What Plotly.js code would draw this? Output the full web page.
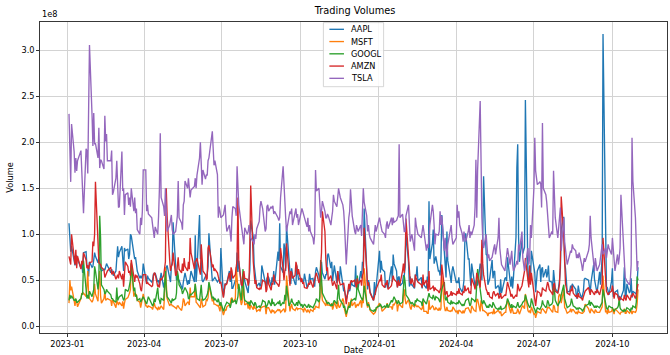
<!DOCTYPE html>
<html><head><meta charset="utf-8">
<script src="https://cdn.plot.ly/plotly-3.0.1.min.js"></script>
<style>html,body{margin:0;padding:0;background:#fff}#chart{width:670px;height:355px}</style>
</head><body><div id="chart"></div>
<script>
// ---- data (daily trading volume, in millions of shares) ----
const seriesNames = ['AAPL', 'MSFT', 'GOOGL', 'AMZN', 'TSLA'];
const seriesColors = ['#1f77b4', '#ff7f0e', '#2ca02c', '#d62728', '#9467bd'];
const firstTradingDay = '2023-01-03';
const marketHolidays = ['2023-01-16','2023-02-20','2023-04-07','2023-05-29','2023-06-19','2023-07-04','2023-09-04','2023-11-23','2023-12-25',
  '2024-01-01','2024-01-15','2024-02-19','2024-03-29','2024-05-27','2024-06-19','2024-07-04','2024-09-02','2024-11-28'];

const aapl = [
112,89,81,87,71,66,70,77,73,63,69,58,80,81,66,65,54,70,64,65,
72,80,76,69,75,64,62,60,62,61,65,68,66,58,62,57,55,60,72,
87,75,80,87,67,60,85,82,84,73,78,100,98,82,73,75,68,60,52,55,52,55,68,
53,46,55,52,48,50,57,56,58,48,50,44,52,58,42,48,46,64,66,
52,48,65,70,113,55,50,55,50,50,43,40,48,55,58,45,50,46,57,60,48,99,
48,61,121,73,77,50,48,54,54,57,65,101,49,50,51,53,48,50,51,46,85,
32,46,46,47,60,48,60,41,41,50,48,80,59,71,46,41,47,55,49,38,
36,50,61,115,97,67,53,51,43,47,43,46,66,61,46,43,52,54,53,43,53,48,60,
45,81,71,112,65,58,90,84,60,109,67,51,46,63,56,46,45,66,56,51,
52,49,48,48,57,42,43,47,57,51,52,46,43,59,64,55,43,58,70,58,51,56,
56,77,79,63,70,49,56,66,47,60,54,49,65,46,38,39,29,40,38,43,48,
45,43,66,41,47,42,60,52,70,66,128,55,40,50,46,37,28,48,34,42,
82,58,71,62,59,42,46,49,41,65,48,78,68,60,42,53,54,44,47,55,55,
64,102,69,43,54,45,45,41,56,54,65,49,53,41,52,45,41,54,48,136,
73,90,105,68,71,76,60,60,55,72,121,75,55,53,103,71,54,47,60,65,
47,49,47,53,42,37,42,50,91,101,73,73,57,44,68,48,43,48,50,44,68,65,
50,94,163,78,77,45,48,51,72,52,59,60,41,44,42,34,51,36,52,53,49,75,
50,43,54,41,53,97,172,198,97,70,93,79,86,246,53,46,66,49,82,
60,58,37,60,67,48,62,64,53,62,53,57,66,49,48,39,61,51,41,36,41,50,
62,105,119,69,63,44,37,38,44,41,46,44,40,30,34,44,38,30,35,38,51,52,
50,43,36,48,67,51,44,37,36,59,45,60,75,318,54,43,42,36,34,49,
63,32,34,37,39,31,33,28,31,39,64,34,32,46,36,38,52,31,38,36,35,47,64];

const msft = [
25,50,39,43,28,22,29,27,21,30,36,35,36,32,44,60,33,30,26,28,
32,46,35,27,51,60,33,25,30,38,28,29,30,28,22,29,27,20,28,
26,23,26,22,27,19,25,29,31,33,36,40,69,32,36,35,34,28,26,20,25,26,35,
22,22,20,22,20,18,22,25,21,18,21,18,20,22,18,34,64,46,30,
22,24,24,22,22,19,19,22,22,20,17,22,30,28,22,26,26,23,42,32,32,46,
26,25,22,20,30,23,21,23,29,28,31,46,27,29,24,24,22,23,20,16,24,
12,18,17,21,24,24,30,31,26,30,64,46,41,40,23,26,47,39,23,25,
19,27,18,23,18,24,19,20,16,18,16,20,21,21,22,13,20,20,20,14,18,16,17,
14,18,17,18,15,19,19,15,17,55,19,16,21,24,19,17,19,20,18,19,
19,18,18,15,20,15,18,16,15,18,16,19,18,22,21,20,31,55,37,28,24,22,
28,23,23,22,25,18,21,26,19,28,22,20,22,30,27,18,10,26,20,22,30,
22,26,20,22,24,22,28,20,29,25,63,25,20,26,19,17,13,14,15,18,
25,22,21,16,19,19,21,25,21,21,18,24,23,28,16,22,24,23,20,33,40,
30,24,29,21,20,18,23,21,24,22,21,22,18,19,27,16,16,14,14,28,
18,22,21,18,18,20,17,20,17,19,55,22,17,17,21,17,16,17,16,21,
15,17,13,17,17,14,17,14,17,19,20,17,16,14,22,17,16,16,29,29,16,28,
24,17,17,15,14,11,14,14,15,13,19,14,15,17,16,14,16,11,15,15,25,28,
17,14,21,15,14,14,15,19,15,13,21,22,19,35,17,15,17,14,21,
13,14,9,16,15,14,18,19,18,14,17,21,20,20,16,15,23,21,16,15,32,35,
33,25,40,20,19,17,14,16,19,15,18,18,14,15,13,17,15,14,14,15,16,24,
19,16,14,19,16,14,18,16,15,15,17,18,21,55,15,17,13,19,15,16,
19,16,13,19,16,14,14,13,15,16,19,14,14,17,14,15,17,13,16,15,17,24,40];

const googl = [
28,34,30,33,28,28,30,26,26,30,35,35,71,45,30,34,30,38,32,36,
40,65,60,40,52,120,96,45,40,35,36,40,38,34,30,30,28,26,42,
28,30,32,34,30,28,30,40,38,40,45,50,68,38,42,32,34,28,30,26,28,30,32,
26,24,28,32,24,22,24,30,26,42,30,28,24,30,28,46,60,40,32,
28,26,25,30,28,30,36,60,55,45,40,35,38,40,42,36,30,30,35,34,38,46,
32,30,28,34,45,32,28,30,32,34,38,48,30,32,28,30,26,30,26,22,26,
16,22,24,26,24,20,24,30,26,28,24,30,32,46,28,45,62,34,28,26,
24,26,22,28,24,22,26,24,20,22,20,22,24,28,26,20,22,24,28,22,30,24,26,
22,26,24,28,22,26,24,34,28,44,22,24,26,30,26,22,24,26,22,28,
22,24,20,22,24,20,22,24,20,22,20,22,24,26,30,26,32,72,52,36,30,28,
26,24,26,22,24,22,26,28,24,40,45,30,28,24,20,22,13,22,20,26,28,
28,30,28,34,55,40,32,30,28,32,44,26,22,24,22,18,16,18,16,20,
22,24,22,20,22,20,22,24,20,28,26,30,32,26,24,28,26,24,26,40,55,
48,34,30,28,26,24,26,22,28,26,30,28,26,22,30,28,24,28,30,36,
32,30,34,30,28,32,30,28,26,34,40,48,30,28,32,26,24,28,24,26,
24,26,24,28,26,22,24,22,26,28,30,26,22,24,30,28,26,30,44,62,40,30,
26,24,28,22,20,22,20,24,20,26,24,22,20,18,20,18,22,18,20,22,24,30,
22,20,24,20,22,20,22,26,22,20,24,26,28,34,24,22,20,22,30,
20,18,14,20,18,20,22,28,24,20,22,28,26,22,24,26,45,40,28,22,24,26,
28,34,45,30,26,24,20,22,24,30,26,22,20,18,20,18,20,18,16,18,20,22,
24,28,22,26,22,20,22,20,22,20,22,24,26,40,22,20,18,20,22,20,
20,18,16,18,20,22,30,20,18,16,18,16,18,20,18,16,20,18,22,20,26,54,50];

const amzn = [
76,68,67,100,70,67,83,63,76,62,71,67,80,72,63,66,62,69,70,92,
87,100,157,78,69,68,67,64,61,53,55,58,60,64,57,57,60,51,55,
56,52,60,51,57,43,58,70,65,58,60,55,72,53,48,56,53,55,46,40,38,47,56,
56,46,48,46,43,44,55,58,57,43,45,42,52,50,55,65,70,150,120,
72,60,65,67,80,55,56,70,75,62,58,68,60,74,65,60,70,62,96,80,62,70,
71,74,60,56,89,64,60,56,50,52,85,88,64,67,60,62,58,54,50,47,48,
31,46,45,46,58,50,64,60,52,56,70,72,140,70,45,44,54,60,52,51,
44,48,88,153,70,52,46,50,42,40,42,40,45,50,48,37,40,58,46,39,47,45,56,
50,45,43,48,85,62,50,60,64,90,48,44,60,58,52,55,70,66,56,62,
48,52,46,48,42,41,44,47,45,50,42,48,52,55,58,47,50,63,80,125,103,74,
60,64,50,55,48,44,46,49,40,60,52,49,45,46,47,40,24,46,40,48,50,
48,50,45,42,52,46,50,44,55,58,107,56,44,48,40,36,28,34,36,40,
50,49,56,45,42,47,45,50,40,44,48,55,51,48,42,50,44,46,60,68,58,
72,117,70,55,48,46,52,42,56,52,50,48,45,42,56,45,50,40,38,60,
40,42,44,38,42,40,38,36,40,42,67,38,34,36,38,32,34,38,33,36,
34,38,35,41,36,34,38,36,44,38,42,36,37,35,52,44,40,46,58,54,42,60,
94,68,56,40,38,34,37,32,30,36,38,35,33,36,30,32,36,30,34,33,40,48,
38,32,35,33,30,34,32,46,40,38,44,50,60,74,48,42,66,45,58,
34,32,22,38,36,32,34,42,40,38,42,48,45,40,36,34,45,47,38,36,40,46,
70,141,98,58,46,42,36,34,40,38,44,36,32,34,30,36,32,30,28,32,36,38,
42,36,34,40,36,34,38,36,40,34,38,42,46,96,48,38,36,34,36,38,
44,34,30,36,34,30,28,32,30,28,34,30,28,34,30,28,34,32,36,30,34,40,46];

const tsla = [
231,180,157,220,190,167,183,169,180,191,168,152,123,193,191,166,234,306,230,196,
232,198,199,183,216,172,181,180,171,229,201,209,180,180,191,143,146,161,180,
155,129,130,190,147,150,121,143,145,132,140,130,150,125,140,123,128,105,100,118,110,125,170,
170,125,132,122,118,110,100,96,108,100,120,150,210,140,130,120,150,128,103,
110,115,121,105,100,103,114,120,158,118,112,105,132,136,158,150,161,150,140,148,152,161,
150,164,183,200,165,154,170,160,165,164,180,183,212,180,175,180,165,118,130,125,118,
121,132,114,103,110,103,92,118,130,128,120,174,158,132,110,103,95,89,107,100,
103,110,103,96,92,89,100,95,106,114,130,136,132,128,103,106,130,132,125,130,128,131,122,
125,118,115,118,140,174,150,132,118,103,118,125,122,128,110,125,128,118,122,110,
123,128,125,120,118,108,118,103,110,103,96,89,100,170,147,150,132,118,125,136,125,118,
118,122,120,110,118,125,143,136,130,147,150,145,140,132,125,110,67,118,125,149,128,
120,103,100,110,106,103,110,98,125,150,135,120,103,110,100,96,89,100,110,103,
118,112,108,103,100,96,110,114,106,118,110,118,113,115,118,120,198,118,122,110,103,
103,120,132,103,92,96,100,82,118,110,103,100,96,106,110,103,82,89,85,95,
110,132,125,110,89,100,99,103,125,110,120,82,96,82,75,89,103,110,96,89,
96,132,118,125,110,100,92,103,96,92,103,110,96,103,99,110,130,181,118,170,245,140,
118,96,85,100,82,74,78,71,75,82,85,89,78,96,118,85,74,67,60,67,74,85,
67,74,82,67,60,67,71,67,89,82,103,74,60,67,85,67,74,110,96,
150,205,169,154,157,155,129,221,150,143,135,118,110,96,103,100,169,132,118,96,110,118,
129,82,118,92,85,74,67,78,82,80,89,85,82,74,78,74,80,67,60,67,74,70,
82,89,120,96,67,60,74,67,60,67,74,85,89,78,85,74,82,89,85,78,
96,85,74,60,78,67,74,85,143,96,67,53,51,49,45,50,67,205,158,118,89,60,71];

const xTickLabels = ['2023-01','2023-04','2023-07','2023-10','2024-01','2024-04','2024-07','2024-10'];
const yTickValues = [0, 50, 100, 150, 200, 250, 300];
const yTickLabels = ['0.0','0.5','1.0','1.5','2.0','2.5','3.0'];

// ---- build trading-day dates (weekdays minus market holidays) ----
function tradingDays(start, n, holidays) {
  const out = [];
  const hol = new Set(holidays);
  const d = new Date(start + 'T00:00:00Z');
  while (out.length < n) {
    const dow = d.getUTCDay();
    const s = d.toISOString().slice(0, 10);
    if (dow !== 0 && dow !== 6 && !hol.has(s)) out.push(s);
    d.setUTCDate(d.getUTCDate() + 1);
  }
  return out;
}

const seriesData = [aapl, msft, googl, amzn, tsla];
const maxLen = Math.max(...seriesData.map(a => a.length));
const dates = tradingDays(firstTradingDay, maxLen, marketHolidays);

const traces = seriesData.map((vals, i) => ({
  type: 'scatter', mode: 'lines', name: seriesNames[i],
  x: dates.slice(0, vals.length), y: vals,
  line: {color: seriesColors[i], width: 1.35},
  hoverinfo: 'skip'
}));

// ---- legend drawn as a matplotlib-style box ----
const legX0 = 0.452, legX1 = 0.548, legY0 = 0.792, legY1 = 0.998;
const rowTop = 0.9765, rowStep = 0.0394;
const shapes = [{type: 'rect', xref: 'paper', yref: 'paper', x0: legX0, x1: legX1, y0: legY0, y1: legY1,
  line: {color: '#cccccc', width: 0.8}, fillcolor: 'rgba(255,255,255,0.85)', layer: 'above'}];
const annotations = [{text: '1e8', xref: 'paper', yref: 'paper', x: 0, y: 1, xanchor: 'left', yanchor: 'bottom',
  yshift: 1, showarrow: false, font: {size: 8.2, color: '#000'}}];
seriesNames.forEach((nm, i) => {
  const yy = rowTop - i * rowStep;
  shapes.push({type: 'line', xref: 'paper', yref: 'paper', x0: 0.4615, x1: 0.4848, y0: yy, y1: yy,
    line: {color: seriesColors[i], width: 1.35}, layer: 'above'});
  annotations.push({text: nm, xref: 'paper', yref: 'paper', x: 0.4925, y: yy, xanchor: 'left', yanchor: 'middle',
    showarrow: false, font: {size: 8.2, color: '#000'}});
});

const layout = {
  width: 670, height: 355,
  margin: {l: 40, r: 3, t: 22, b: 22},
  paper_bgcolor: '#ffffff', plot_bgcolor: '#ffffff',
  font: {family: 'DejaVu Sans, sans-serif', size: 8.2, color: '#000'},
  title: {text: 'Trading Volumes', font: {size: 9.8, color: '#000'}, x: 0.53, xref: 'container',
    y: 1 - 11 / 355, yref: 'container', yanchor: 'middle'},
  showlegend: false,
  xaxis: {
    type: 'date', range: ['2022-11-30', '2024-12-04'],
    tickvals: xTickLabels.map(t => t + '-01'), ticktext: xTickLabels,
    ticks: 'outside', ticklen: 3, tickwidth: 0.8, tickcolor: '#000',
    showgrid: true, gridcolor: '#d3d3d3', gridwidth: 1,
    showline: true, linecolor: '#222', linewidth: 0.9, mirror: true, zeroline: false,
    title: {text: 'Date', font: {size: 8.2}, standoff: 2}, automargin: false
  },
  yaxis: {
    range: [-7.5, 331],
    tickvals: yTickValues, ticktext: yTickLabels,
    ticks: 'outside', ticklen: 3, tickwidth: 0.8, tickcolor: '#000',
    showgrid: true, gridcolor: '#d3d3d3', gridwidth: 1,
    showline: true, linecolor: '#222', linewidth: 0.9, mirror: true, zeroline: false,
    title: {text: 'Volume', font: {size: 8.2}, standoff: 6}, automargin: false
  },
  shapes: shapes,
  annotations: annotations
};

Plotly.newPlot('chart', traces, layout, {displayModeBar: false, staticPlot: true});
</script>
</body></html>
